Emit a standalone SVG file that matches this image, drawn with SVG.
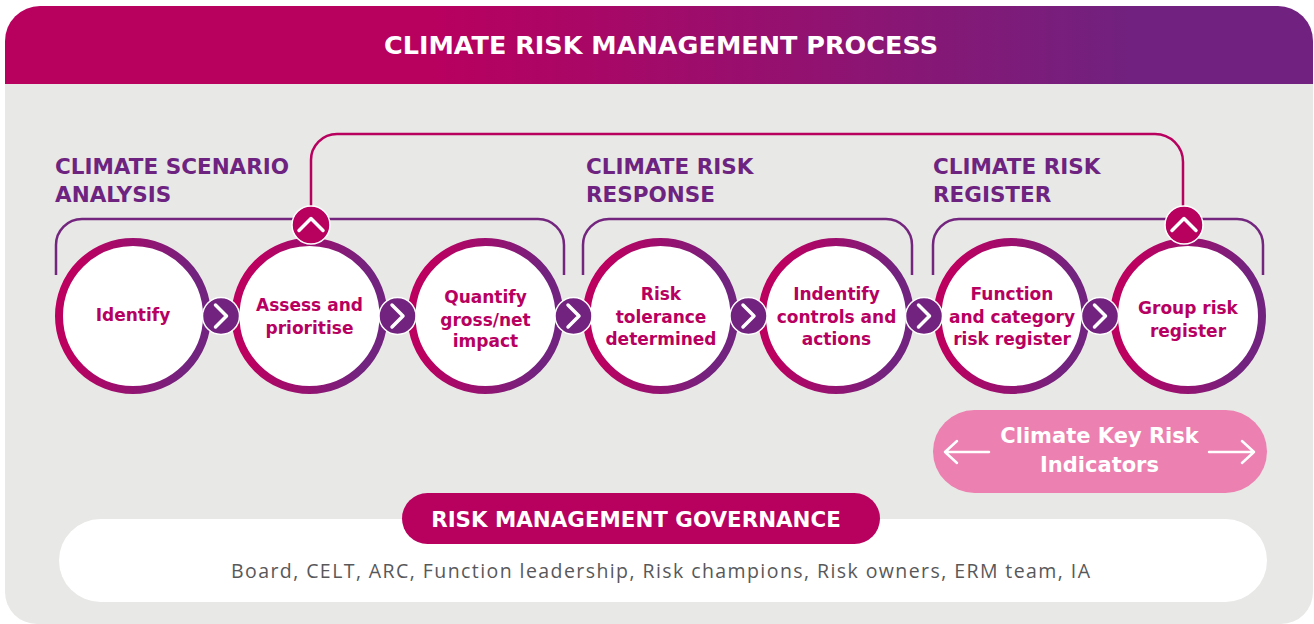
<svg xmlns="http://www.w3.org/2000/svg" width="1314" height="624" viewBox="0 0 1314 624">
<defs>
<linearGradient id="hdr" x1="0" y1="0" x2="1" y2="0">
<stop offset="0.33" stop-color="#b8005f"/>
<stop offset="0.86" stop-color="#71217f"/>
</linearGradient>
<linearGradient id="ring" x1="0" y1="0.45" x2="1" y2="0.55">
<stop offset="0.12" stop-color="#bb0060"/>
<stop offset="0.88" stop-color="#72237f"/>
</linearGradient>
<style>
.bg{fill:#e8e8e6}
.title{font-family:"DejaVu Sans",sans-serif;font-weight:bold;font-size:25.5px;fill:#fff;text-anchor:middle}
.head{font-family:"DejaVu Sans",sans-serif;font-weight:bold;font-size:21.5px;fill:#6e2380}
.node{fill:#fff;stroke:url(#ring);stroke-width:8}
.nt{font-family:"DejaVu Sans",sans-serif;font-weight:bold;font-size:17px;fill:#b7005f;text-anchor:middle}
.loop{fill:none;stroke:#b8005f;stroke-width:2.5}
.brk{fill:none;stroke:#74267f;stroke-width:2.5}
.chev{fill:#72237f;stroke:#fff;stroke-width:1.5}
.up{fill:#b8005f;stroke:#fff;stroke-width:1.5}
.cl{fill:none;stroke:#fff;stroke-width:3.5;stroke-linecap:round;stroke-linejoin:round}
.kri{font-family:"DejaVu Sans",sans-serif;font-weight:bold;font-size:21px;fill:#fff;text-anchor:middle}
.arr{fill:none;stroke:#fff;stroke-width:2.5;stroke-linecap:round;stroke-linejoin:round}
.gt{font-family:"DejaVu Sans",sans-serif;font-weight:bold;font-size:21.4px;fill:#fff;text-anchor:middle}
.gl{font-family:"Open Sans",sans-serif;font-size:19.5px;fill:#58585a;text-anchor:middle}
</style>
</defs>

<g id="background">
<path class="bg" d="M5,84 H1313 V592 A32,32 0 0 1 1281,624 H37 A32,32 0 0 1 5,592 Z"/>
<path fill="url(#hdr)" d="M5,84 V41 A35,35 0 0 1 40,6 H1278 A35,35 0 0 1 1313,41 V84 Z"/>
<text class="title" x="661" y="54">CLIMATE RISK MANAGEMENT PROCESS</text>
</g>

<g id="headings">
<text class="head" x="55" y="174">CLIMATE SCENARIO</text>
<text class="head" x="55" y="202">ANALYSIS</text>
<text class="head" x="586" y="174">CLIMATE RISK</text>
<text class="head" x="586" y="202">RESPONSE</text>
<text class="head" x="933" y="174">CLIMATE RISK</text>
<text class="head" x="933" y="202">REGISTER</text>
</g>

<g id="brackets">
<path class="brk" d="M56,275 V245 A26,26 0 0 1 82,219 H538 A26,26 0 0 1 564,245 V275"/>
<path class="brk" d="M583,275 V245 A26,26 0 0 1 609,219 H886 A26,26 0 0 1 912,245 V275"/>
<path class="brk" d="M933,275 V245 A26,26 0 0 1 959,219 H1237 A26,26 0 0 1 1263,245 V275"/>
</g>

<g id="connectors">
<path class="loop" d="M311,206 V160 A26,26 0 0 1 337,134 H1155 A28,28 0 0 1 1183,162 V206"/>
</g>

<g id="node-identify">
<circle class="node" cx="133" cy="316" r="74"/>
<text class="nt" x="133" y="321">Identify</text>
</g>
<g id="node-assess">
<circle class="node" cx="309.5" cy="316" r="74"/>
<text class="nt" x="309.5" y="311">Assess and</text>
<text class="nt" x="309.5" y="334">prioritise</text>
</g>
<g id="node-quantify">
<circle class="node" cx="485.5" cy="316" r="74"/>
<text class="nt" x="485.5" y="303">Quantify</text>
<text class="nt" x="485.5" y="325.5">gross/net</text>
<text class="nt" x="485.5" y="347">impact</text>
</g>
<g id="node-tolerance">
<circle class="node" cx="660.5" cy="316" r="74"/>
<text class="nt" x="661" y="300">Risk</text>
<text class="nt" x="661" y="323">tolerance</text>
<text class="nt" x="661" y="345">determined</text>
</g>
<g id="node-controls">
<circle class="node" cx="836" cy="316" r="74"/>
<text class="nt" x="836.5" y="300">Indentify</text>
<text class="nt" x="836.5" y="323">controls and</text>
<text class="nt" x="836.5" y="345">actions</text>
</g>
<g id="node-function">
<circle class="node" cx="1011.5" cy="316" r="74"/>
<text class="nt" x="1012" y="300">Function</text>
<text class="nt" x="1012" y="323">and category</text>
<text class="nt" x="1012" y="345">risk register</text>
</g>
<g id="node-group">
<circle class="node" cx="1188" cy="316" r="74"/>
<text class="nt" x="1188" y="314">Group risk</text>
<text class="nt" x="1188" y="337">register</text>
</g>

<g id="chevrons">
<circle class="chev" cx="221" cy="316" r="18.5"/><path class="cl" d="M215.5,305 L226.5,316 L215.5,327"/>
<circle class="chev" cx="397.5" cy="316" r="18.5"/><path class="cl" d="M392,305 L403,316 L392,327"/>
<circle class="chev" cx="573.5" cy="316" r="18.5"/><path class="cl" d="M568,305 L579,316 L568,327"/>
<circle class="chev" cx="748.5" cy="316" r="18.5"/><path class="cl" d="M743,305 L754,316 L743,327"/>
<circle class="chev" cx="924" cy="316" r="18.5"/><path class="cl" d="M918.5,305 L929.5,316 L918.5,327"/>
<circle class="chev" cx="1100" cy="316" r="18.5"/><path class="cl" d="M1094.5,305 L1105.5,316 L1094.5,327"/>
<circle class="up" cx="311" cy="225" r="19"/><path class="cl" d="M299,230.5 L311,218.5 L323,230.5"/>
<circle class="up" cx="1184" cy="225" r="19"/><path class="cl" d="M1172,230.5 L1184,218.5 L1196,230.5"/>
</g>

<g id="node-kri">
<rect x="933" y="410" width="334" height="83" rx="41.5" fill="#ec80b0"/>
<path class="arr" d="M989,452 H945 M957,441 L945,452 L957,463"/>
<path class="arr" d="M1209,452 H1254 M1242,441 L1254,452 L1242,463"/>
<text class="kri" x="1099.5" y="443">Climate Key Risk</text>
<text class="kri" x="1099.5" y="472">Indicators</text>
</g>

<g id="node-governance">
<rect x="59" y="519" width="1208" height="83" rx="41.5" fill="#fff"/>
<rect x="402" y="493" width="478" height="51" rx="25.5" fill="#b8005f"/>
<text class="gt" x="636" y="527">RISK MANAGEMENT GOVERNANCE</text>
<text class="gl" x="660.5" y="577.5" textLength="859" lengthAdjust="spacing">Board, CELT, ARC, Function leadership, Risk champions, Risk owners, ERM team, IA</text>
</g>
</svg>
